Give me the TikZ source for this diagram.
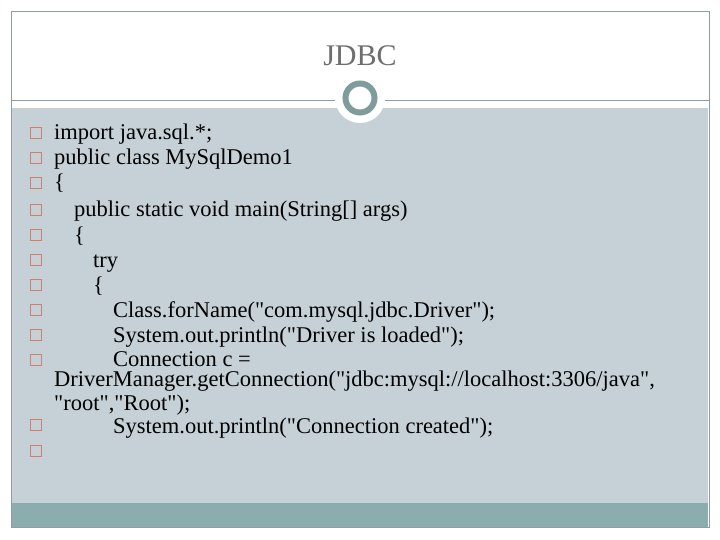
\documentclass[tikz,border=0pt]{standalone}
\usepackage{fontspec}
\setmainfont{Liberation Serif}[Ligatures=TeXOff]
\definecolor{bodybg}{HTML}{C6D1D7}
\definecolor{barbg}{HTML}{8BADAE}
\definecolor{ringc}{HTML}{7F9B9C}
\definecolor{linec}{HTML}{8C9EA0}
\definecolor{bulc}{HTML}{D0806A}
\definecolor{titlec}{HTML}{6E6E6E}
\begin{document}
\begin{tikzpicture}[x=1pt,y=-1pt,
  bul/.style={draw=bulc,line width=0.6pt,fill=none,minimum size=11pt,inner sep=0pt},
  code/.style={anchor=base west,inner sep=0pt,font=\fontsize{22.5}{24}\selectfont}]
\useasboundingbox (0,0) rectangle (720,540);
\fill[white] (0,0) rectangle (720,540);
\fill[bodybg] (12,108) rectangle (708,503);
\fill[barbg] (12,503) rectangle (708,527);
\draw[linec,line width=0.8pt] (11,11) rectangle (709,527);
\draw[linec,line width=0.8pt] (11,100) -- (709,100);
\fill[white] (360,98) circle (25);
\draw[ringc,line width=6pt] (360,98) circle (14.5);
\node[anchor=base,inner sep=0pt,text=titlec,font=\fontsize{30}{32}\selectfont] (title) at (360,66) {JDBC};
\foreach \y/\n in {133/1,158/2,183/3,210/4,235/5,260/6,285/7,310/8,335/9,360/10,425/11,451/12}
  \node[bul] (b\n) at (36,\y) {};
\node[code] (t1) at (54,140) {import java.sql.*;};
\node[code] (t2) at (54,165) {public class MySqlDemo1};
\node[code] (t3) at (54,190) {\{};
\node[code] (t4) at (74,217) {public static void main(String[] args)};
\node[code] (t5) at (74,242) {\{};
\node[code] (t6) at (93,267) {try};
\node[code] (t7) at (93,292) {\{};
\node[code] (t8) at (113,317) {Class.forName("com.mysql.jdbc.Driver");};
\node[code] (t9) at (113,342) {System.out.println("Driver is loaded");};
\node[code] (t10) at (113,366) {Connection c =};
\node[code] (t10b) at (54,386) {DriverManager.getConnection("jdbc:mysql://localhost:3306/java",};
\node[code] (t10c) at (54,410) {"root","Root");};
\node[code] (t11) at (113,433) {System.out.println("Connection created");};
\end{tikzpicture}
\end{document}
